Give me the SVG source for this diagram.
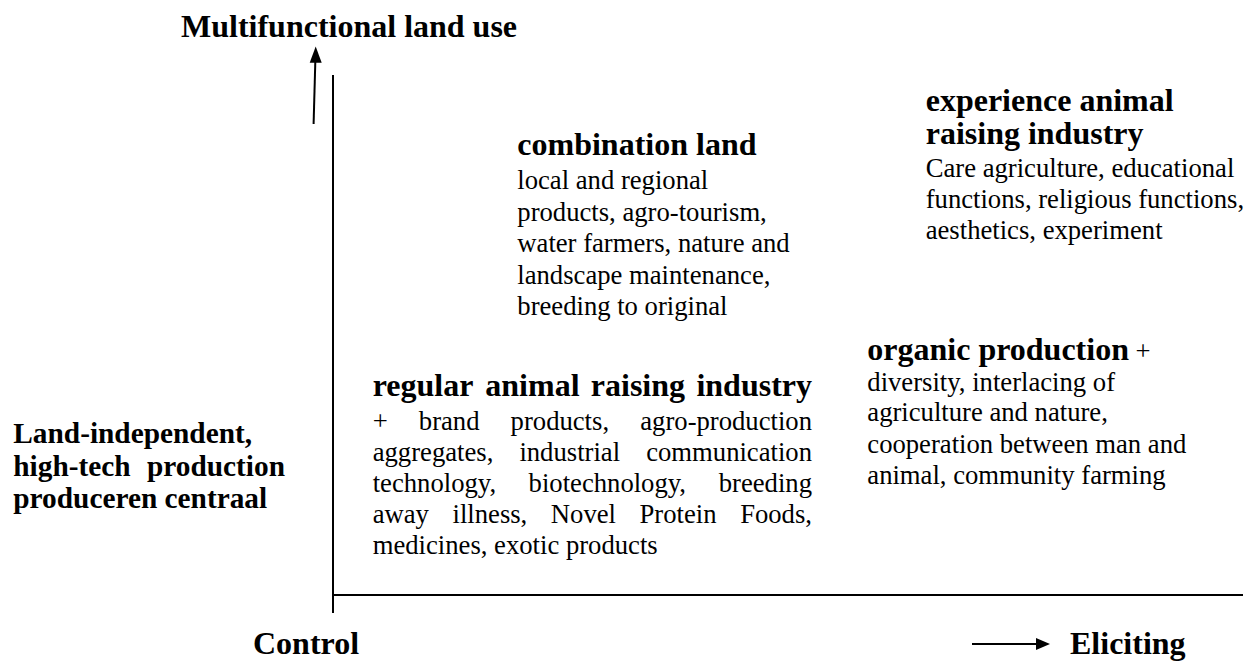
<svg xmlns="http://www.w3.org/2000/svg" width="1253" height="661" viewBox="0 0 1253 661">
<style>
text{font-family:"Liberation Serif","Times New Roman",serif;fill:#000}
.h{font-size:32px;font-weight:bold}
.b{font-size:26.67px}
.l{font-size:29.33px;font-weight:bold}
.ax{stroke:#000;stroke-width:2;fill:none}
</style>
<rect width="1253" height="661" fill="#fff"/>
<g id="connectors">
<line class="ax" x1="333" y1="75" x2="333" y2="613"/>
<line class="ax" x1="333" y1="595" x2="1243" y2="595"/>
<line class="ax" x1="315.3" y1="62" x2="313.6" y2="124"/>
<polygon points="315.7,46.5 309.7,62.7 321.7,62.7" fill="#000"/>
<line class="ax" x1="972" y1="644" x2="1037" y2="644"/>
<polygon points="1036,638 1050,644 1036,650" fill="#000"/>
</g>
<g id="title"><text class="h" x="181" y="37">Multifunctional land use</text></g>
<g id="control"><text class="h" x="253" y="654">Control</text></g>
<g id="eliciting"><text class="h" x="1070" y="654">Eliciting</text></g>
<g id="land-independent">
<text class="l" x="13.3" y="443">Land-independent,</text>
<text class="l" x="13.3" y="476">high-tech</text>
<text class="l" x="285" y="476" text-anchor="end">production</text>
<text class="l" x="13.3" y="508">produceren centraal</text>
</g>
<g id="combination-land">
<text class="h" x="517.3" y="155">combination land</text>
<text class="b" x="517.3" y="189">local and regional</text>
<text class="b" x="517.3" y="221">products, agro-tourism,</text>
<text class="b" x="517.3" y="252">water farmers, nature and</text>
<text class="b" x="517.3" y="284">landscape maintenance,</text>
<text class="b" x="517.3" y="315">breeding to original</text>
</g>
<g id="experience">
<text class="h" x="925.7" y="111">experience animal</text>
<text class="h" x="925.7" y="144">raising industry</text>
<text class="b" x="925.7" y="177">Care agriculture, educational</text>
<text class="b" x="925.7" y="208">functions, religious functions,</text>
<text class="b" x="925.7" y="239">aesthetics, experiment</text>
</g>
<g id="organic">
<text x="867.3" y="360"><tspan class="h">organic production</tspan><tspan class="b"> +</tspan></text>
<text class="b" x="867.3" y="391">diversity, interlacing of</text>
<text class="b" x="867.3" y="421">agriculture and nature,</text>
<text class="b" x="867.3" y="453">cooperation between man and</text>
<text class="b" x="867.3" y="484">animal, community farming</text>
</g>
<g id="regular">
<text class="h" y="396"><tspan x="372.7">regular</tspan><tspan x="485.3">animal</tspan><tspan x="590.8">raising</tspan></text>
<text class="h" x="812" y="396" text-anchor="end">industry</text>
<text class="b" y="430"><tspan x="372.7">+</tspan><tspan x="418.8">brand</tspan><tspan x="510.6">products,</tspan></text>
<text class="b" x="812" y="430" text-anchor="end">agro-production</text>
<text class="b" y="461"><tspan x="372.7">aggregates,</tspan><tspan x="519.4">industrial</tspan></text>
<text class="b" x="812" y="461" text-anchor="end">communication</text>
<text class="b" y="492"><tspan x="372.7">technology,</tspan><tspan x="528.6">biotechnology,</tspan></text>
<text class="b" x="812" y="492" text-anchor="end">breeding</text>
<text class="b" y="523"><tspan x="372.7">away</tspan><tspan x="452.5">illness,</tspan><tspan x="550.8">Novel</tspan><tspan x="639.5">Protein</tspan></text>
<text class="b" x="812" y="523" text-anchor="end">Foods,</text>
<text class="b" x="372.7" y="554">medicines, exotic products</text>
</g>
</svg>
